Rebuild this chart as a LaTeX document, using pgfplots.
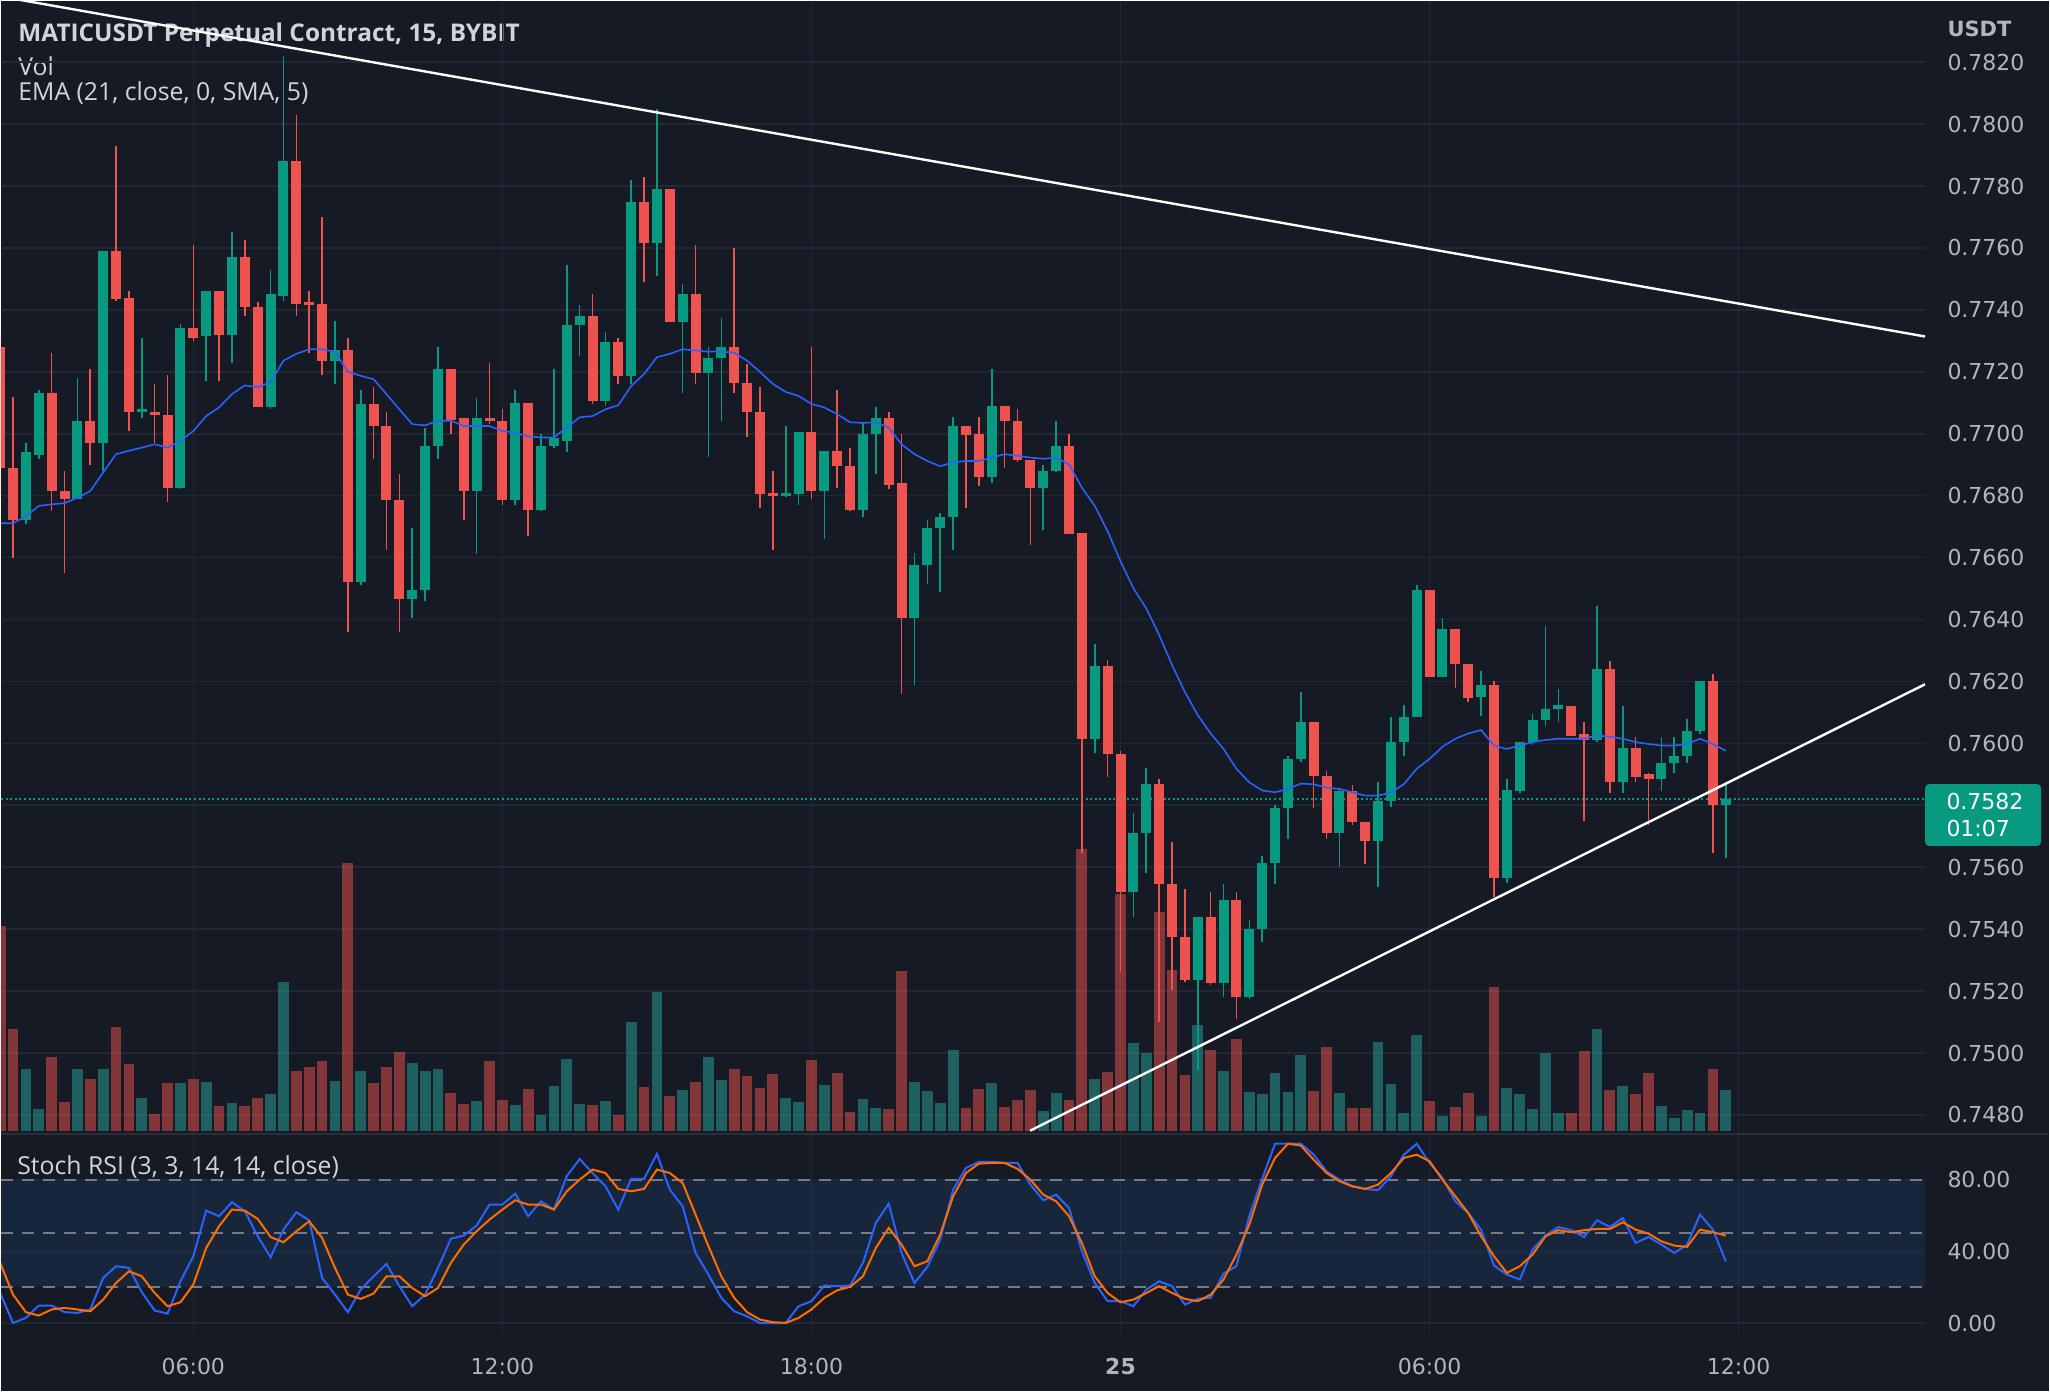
\documentclass[border=0pt]{standalone}
\usepackage{pgfplots}
\pgfplotsset{compat=1.18}
\usepackage{pgfplotstable}
\usepackage{fontspec}
\setmainfont{Open Sans}
\newfontfamily\axisfont{DejaVu Sans}
\definecolor{bg}{HTML}{161A25}
\definecolor{gridc}{HTML}{232733}
\definecolor{sepc}{HTML}{2A2E39}
\definecolor{up}{HTML}{089981}
\definecolor{dn}{HTML}{EF5350}
\definecolor{vu}{HTML}{26A69A}
\definecolor{vd}{HTML}{EF5350}
\definecolor{txt}{HTML}{B2B5BE}
\definecolor{ttl}{HTML}{D1D4DC}
\definecolor{bl}{HTML}{2962FF}
\definecolor{orng}{HTML}{FF6D00}
\definecolor{bandc}{HTML}{2196F3}
\definecolor{dashc}{HTML}{787B86}
% candle: colour, index, open, high, low, close
\newcommand{\cdl}[6]{%
  \addplot[#1, line width=0.8pt, forget plot] coordinates {(#2,#5) (#2,#4)};
  \addplot[#1, line width=5pt, forget plot] coordinates {(#2,#3) (#2,#6)};
}
% volume: colour, index, volume
\newcommand{\vb}[3]{%
  \addplot[#1, opacity=0.5, line width=5.4pt, forget plot] coordinates {(#2,0) (#2,#3)};
}
\pgfplotstableread{
i e
-15 0.76711
-14 0.76711
-13 0.76733
-12 0.76767
-11 0.76772
-10 0.76776
-9 0.76793
-8 0.76815
-7 0.76875
-6 0.76934
-5 0.76945
-4 0.76955
-3 0.76966
-2 0.76955
-1 0.76977
0 0.77009
1 0.77057
2 0.77085
3 0.77128
4 0.77156
5 0.77150
6 0.77167
7 0.77236
8 0.77258
9 0.77273
10 0.77273
11 0.77265
12 0.77200
13 0.77187
14 0.77176
15 0.77128
16 0.77079
17 0.77031
18 0.77027
19 0.77042
20 0.77042
21 0.77025
22 0.77025
23 0.77025
24 0.77009
25 0.77003
26 0.76992
27 0.76988
28 0.76988
29 0.77020
30 0.77053
31 0.77057
32 0.77079
33 0.77092
34 0.77154
35 0.77193
36 0.77247
37 0.77258
38 0.77273
39 0.77269
40 0.77265
41 0.77265
42 0.77262
43 0.77236
44 0.77200
45 0.77161
46 0.77135
47 0.77122
48 0.77096
49 0.77085
50 0.77063
51 0.77037
52 0.77035
53 0.77037
54 0.77020
55 0.76966
56 0.76934
57 0.76912
58 0.76895
59 0.76908
60 0.76912
61 0.76912
62 0.76923
63 0.76934
64 0.76929
65 0.76923
66 0.76919
67 0.76923
68 0.76901
69 0.76826
70 0.76767
71 0.76685
72 0.76588
73 0.76501
74 0.76436
75 0.76350
76 0.76253
77 0.76166
78 0.76091
79 0.76032
80 0.75982
81 0.75918
82 0.75874
83 0.75848
84 0.75842
85 0.75853
86 0.75870
87 0.75868
88 0.75857
89 0.75853
90 0.75842
91 0.75831
92 0.75831
93 0.75842
94 0.75868
95 0.75918
96 0.75950
97 0.75989
98 0.76015
99 0.76032
100 0.76043
101 0.75993
102 0.75982
103 0.75993
104 0.76004
105 0.76011
106 0.76015
107 0.76015
108 0.76015
109 0.76026
110 0.76021
111 0.76015
112 0.76004
113 0.75998
114 0.75993
115 0.75993
116 0.75998
117 0.76015
118 0.75998
119 0.75976
}\ema
\pgfplotstableread{
i k d
-15 16.8 33.6
-14 0.1 15.9
-13 2.9 6.1
-12 9.8 4.2
-11 9.8 7.6
-10 6.1 8.5
-9 5.7 7.6
-8 7.6 6.6
-7 25.2 13.1
-6 31.7 22.4
-5 30.8 28.9
-4 17.2 26.1
-3 7.0 16.8
-2 5.3 9.4
-1 23.3 11.6
0 37.3 21.5
1 62.7 41.9
2 59.6 54.0
3 67.4 63.3
4 62.4 62.7
5 48.4 58.1
6 36.7 48.0
7 52.1 45.1
8 61.8 51.2
9 57.3 56.8
10 25.2 47.5
11 15.9 30.8
12 6.1 15.9
13 18.7 13.5
14 26.1 16.5
15 33.0 26.1
16 20.6 26.1
17 9.4 19.6
18 15.9 15.0
19 30.8 19.6
20 47.1 33.6
21 48.8 43.8
22 54.4 51.2
23 66.1 57.7
24 66.1 63.3
25 72.2 68.5
26 59.6 66.1
27 67.9 66.1
28 63.3 63.3
29 81.9 73.5
30 91.5 80.0
31 83.7 85.6
32 76.3 83.7
33 63.3 74.8
34 80.4 73.5
35 80.4 74.8
36 94.3 85.6
37 74.4 83.7
38 65.1 78.1
39 39.1 60.5
40 27.1 42.9
41 14.1 26.1
42 6.6 14.1
43 3.8 6.1
44 0.0 2.0
45 0.0 0.5
46 0.1 0.1
47 9.4 2.9
48 12.2 7.6
49 20.9 14.1
50 20.6 18.3
51 20.9 20.2
52 33.6 26.1
53 55.9 41.9
54 66.6 53.1
55 39.1 43.8
56 22.4 31.7
57 31.3 34.5
58 46.6 49.4
59 74.4 70.7
60 86.5 83.7
61 89.9 88.9
62 89.9 89.3
63 89.3 89.3
64 89.3 86.0
65 77.2 80.0
66 68.5 71.6
67 71.6 67.9
68 64.2 59.6
69 40.1 44.7
70 22.4 26.1
71 12.2 16.8
72 12.2 11.6
73 9.4 13.1
74 18.7 16.8
75 23.3 20.6
76 20.6 16.8
77 10.3 13.5
78 13.5 12.2
79 14.1 15.9
80 27.6 24.3
81 31.7 38.2
82 59.6 54.9
83 80.4 77.2
84 100.0 92.1
85 100.0 100.0
86 100.0 99.0
87 93.9 91.1
88 84.6 83.7
89 80.0 79.1
90 76.3 76.3
91 74.8 74.8
92 74.1 77.2
93 81.9 83.7
94 93.9 92.1
95 100.0 93.9
96 89.3 90.2
97 80.9 80.0
98 67.9 70.7
99 61.4 61.4
100 52.1 48.4
101 32.1 37.3
102 27.1 28.0
103 24.3 31.7
104 41.0 38.2
105 48.8 48.4
106 53.6 51.8
107 51.8 50.7
108 48.0 51.8
109 57.3 52.5
110 53.6 52.5
111 58.6 56.2
112 44.7 52.1
113 48.0 49.9
114 43.8 45.6
115 39.1 43.2
116 43.8 42.5
117 60.5 52.1
118 52.1 50.7
119 34.5 48.8
}\stoch
\begin{document}
\begin{tikzpicture}
\fill[bg] (0,0) rectangle (1025pt,696pt);
\node[anchor=base west, inner sep=0pt, text=ttl, font=\bfseries\fontsize{12.2}{14}\selectfont] at (8.5pt,675.6pt) {MATICUSDT Perpetual Contract, 15, BYBIT};
\node[anchor=base west, inner sep=0pt, text=ttl, font=\fontsize{12.4}{14}\selectfont] at (8.5pt,658.5pt) {Vol};
\node[anchor=base west, inner sep=0pt, text=ttl, font=\fontsize{12.4}{14}\selectfont] at (8.5pt,646.3pt) {EMA (21, close, 0, SMA, 5)};
\pgfplotsset{panel/.style={scale only axis, width=963pt, xmin=-14.934, xmax=134.48, anchor=south west}}
% ---------- price panel grid and price scale
\begin{axis}[panel, at={(0pt,129pt)}, height=567pt, ymin=0.747394, ymax=0.783983,
  axis line style={draw=none}, major tick length=0pt,
  xtick={0,24,48,72,96,120}, xticklabels={},
  ytick={0.748,0.750,0.752,0.754,0.756,0.758,0.760,0.762,0.764,0.766,0.768,0.770,0.772,0.774,0.776,0.778,0.780,0.782},
  yticklabels={0.7480,0.7500,0.7520,0.7540,0.7560,{},0.7600,0.7620,0.7640,0.7660,0.7680,0.7700,0.7720,0.7740,0.7760,0.7780,0.7800,0.7820},
  yticklabel pos=right,
  yticklabel style={anchor=west, inner sep=0pt, xshift=11pt, text=txt, font=\axisfont\fontsize{11}{13}\selectfont},
  grid=major, grid style={gridc, line width=0.8pt}]
\addplot[draw=none] coordinates {(0,0.76)};
\end{axis}
% ---------- volume
\begin{axis}[panel, at={(0pt,129pt)}, height=567pt, ymin=-4, ymax=1689.4, hide axis]
\vb{vd}{-15}{307}
\vb{vd}{-14}{153}
\vb{vu}{-13}{92}
\vb{vu}{-12}{33}
\vb{vd}{-11}{110}
\vb{vd}{-10}{44}
\vb{vu}{-9}{92}
\vb{vd}{-8}{78}
\vb{vu}{-7}{93}
\vb{vd}{-6}{156}
\vb{vd}{-5}{100}
\vb{vu}{-4}{50}
\vb{vd}{-3}{25}
\vb{vd}{-2}{72}
\vb{vu}{-1}{72}
\vb{vd}{0}{78}
\vb{vu}{1}{74}
\vb{vd}{2}{38}
\vb{vu}{3}{42}
\vb{vd}{4}{38}
\vb{vd}{5}{50}
\vb{vu}{6}{56}
\vb{vu}{7}{223}
\vb{vd}{8}{89}
\vb{vd}{9}{95}
\vb{vd}{10}{104}
\vb{vu}{11}{75}
\vb{vd}{12}{401}
\vb{vu}{13}{89}
\vb{vd}{14}{72}
\vb{vd}{15}{95}
\vb{vd}{16}{118}
\vb{vu}{17}{102}
\vb{vu}{18}{89}
\vb{vu}{19}{93}
\vb{vd}{20}{57}
\vb{vd}{21}{41}
\vb{vu}{22}{45}
\vb{vd}{23}{104}
\vb{vd}{24}{46}
\vb{vu}{25}{39}
\vb{vd}{26}{63}
\vb{vu}{27}{24}
\vb{vu}{28}{68}
\vb{vu}{29}{108}
\vb{vu}{30}{41}
\vb{vd}{31}{39}
\vb{vu}{32}{45}
\vb{vd}{33}{24}
\vb{vu}{34}{163}
\vb{vd}{35}{66}
\vb{vu}{36}{208}
\vb{vd}{37}{53}
\vb{vu}{38}{62}
\vb{vd}{39}{74}
\vb{vu}{40}{111}
\vb{vu}{41}{77}
\vb{vd}{42}{93}
\vb{vd}{43}{82}
\vb{vd}{44}{65}
\vb{vd}{45}{85}
\vb{vu}{46}{50}
\vb{vu}{47}{43}
\vb{vd}{48}{106}
\vb{vu}{49}{69}
\vb{vd}{50}{87}
\vb{vd}{51}{29}
\vb{vu}{52}{48}
\vb{vu}{53}{35}
\vb{vd}{54}{33}
\vb{vd}{55}{239}
\vb{vu}{56}{74}
\vb{vu}{57}{60}
\vb{vu}{58}{42}
\vb{vu}{59}{121}
\vb{vd}{60}{35}
\vb{vd}{61}{63}
\vb{vu}{62}{72}
\vb{vd}{63}{36}
\vb{vd}{64}{47}
\vb{vd}{65}{62}
\vb{vu}{66}{30}
\vb{vu}{67}{57}
\vb{vd}{68}{47}
\vb{vd}{69}{422}
\vb{vu}{70}{78}
\vb{vd}{71}{88}
\vb{vd}{72}{355}
\vb{vu}{73}{132}
\vb{vu}{74}{117}
\vb{vd}{75}{327}
\vb{vd}{76}{241}
\vb{vd}{77}{84}
\vb{vu}{78}{159}
\vb{vd}{79}{121}
\vb{vu}{80}{89}
\vb{vd}{81}{137}
\vb{vu}{82}{58}
\vb{vu}{83}{55}
\vb{vu}{84}{87}
\vb{vu}{85}{59}
\vb{vu}{86}{113}
\vb{vd}{87}{60}
\vb{vd}{88}{125}
\vb{vu}{89}{57}
\vb{vd}{90}{35}
\vb{vd}{91}{35}
\vb{vu}{92}{133}
\vb{vu}{93}{71}
\vb{vu}{94}{27}
\vb{vu}{95}{144}
\vb{vd}{96}{45}
\vb{vu}{97}{23}
\vb{vd}{98}{36}
\vb{vd}{99}{57}
\vb{vu}{100}{23}
\vb{vd}{101}{215}
\vb{vu}{102}{65}
\vb{vu}{103}{55}
\vb{vu}{104}{33}
\vb{vu}{105}{117}
\vb{vu}{106}{27}
\vb{vd}{107}{27}
\vb{vd}{108}{120}
\vb{vu}{109}{153}
\vb{vd}{110}{62}
\vb{vu}{111}{68}
\vb{vd}{112}{55}
\vb{vd}{113}{86}
\vb{vu}{114}{38}
\vb{vu}{115}{20}
\vb{vu}{116}{32}
\vb{vu}{117}{27}
\vb{vd}{118}{93}
\vb{vu}{119}{62}
\end{axis}
% ---------- candles, EMA, trend lines
\begin{axis}[panel, at={(0pt,129pt)}, height=567pt, ymin=0.747394, ymax=0.783983, hide axis]
\addplot[up, line width=0.7pt, dash pattern=on 1pt off 1.3pt] coordinates {(-14.934,0.7582) (134.48,0.7582)};
\cdl{dn}{-15}{0.7728}{0.7732}{0.7679}{0.7689}
\cdl{dn}{-14}{0.7689}{0.7712}{0.7660}{0.7672}
\cdl{up}{-13}{0.7672}{0.7697}{0.7671}{0.7694}
\cdl{up}{-12}{0.7693}{0.7714}{0.7692}{0.7713}
\cdl{dn}{-11}{0.7713}{0.7726}{0.7675}{0.76815}
\cdl{dn}{-10}{0.76815}{0.7688}{0.7655}{0.7679}
\cdl{up}{-9}{0.7679}{0.7718}{0.7679}{0.7704}
\cdl{dn}{-8}{0.7704}{0.7721}{0.7690}{0.7697}
\cdl{up}{-7}{0.7697}{0.7759}{0.7688}{0.7759}
\cdl{dn}{-6}{0.7759}{0.7793}{0.7743}{0.77435}
\cdl{dn}{-5}{0.7744}{0.7746}{0.7701}{0.7707}
\cdl{up}{-4}{0.7707}{0.7731}{0.7705}{0.7708}
\cdl{dn}{-3}{0.7707}{0.7716}{0.7697}{0.7706}
\cdl{dn}{-2}{0.7706}{0.7719}{0.7678}{0.76825}
\cdl{up}{-1}{0.76825}{0.77355}{0.7682}{0.7734}
\cdl{dn}{0}{0.7734}{0.7761}{0.7730}{0.7731}
\cdl{up}{1}{0.77315}{0.7746}{0.7717}{0.7746}
\cdl{dn}{2}{0.7746}{0.7746}{0.7717}{0.7732}
\cdl{up}{3}{0.7732}{0.7765}{0.7723}{0.7757}
\cdl{dn}{4}{0.7757}{0.77625}{0.7738}{0.7741}
\cdl{dn}{5}{0.7741}{0.77425}{0.77085}{0.77085}
\cdl{up}{6}{0.77085}{0.7753}{0.7708}{0.7745}
\cdl{up}{7}{0.77445}{0.7822}{0.7743}{0.7788}
\cdl{dn}{8}{0.7788}{0.7803}{0.7738}{0.7742}
\cdl{dn}{9}{0.77425}{0.7746}{0.7726}{0.77415}
\cdl{dn}{10}{0.7742}{0.7770}{0.7719}{0.77235}
\cdl{up}{11}{0.77235}{0.77365}{0.7716}{0.7727}
\cdl{dn}{12}{0.7727}{0.7731}{0.7636}{0.7652}
\cdl{up}{13}{0.7652}{0.7714}{0.7651}{0.77095}
\cdl{dn}{14}{0.77095}{0.7715}{0.7692}{0.77025}
\cdl{dn}{15}{0.77025}{0.7707}{0.76625}{0.76785}
\cdl{dn}{16}{0.76785}{0.7687}{0.7636}{0.76465}
\cdl{up}{17}{0.76465}{0.76695}{0.76405}{0.76495}
\cdl{up}{18}{0.76495}{0.7702}{0.7646}{0.7696}
\cdl{up}{19}{0.7696}{0.7728}{0.7692}{0.7721}
\cdl{dn}{20}{0.7721}{0.7721}{0.7700}{0.77045}
\cdl{dn}{21}{0.7705}{0.7705}{0.7672}{0.76815}
\cdl{up}{22}{0.76815}{0.77115}{0.7661}{0.7705}
\cdl{dn}{23}{0.7705}{0.7723}{0.7703}{0.7704}
\cdl{dn}{24}{0.7704}{0.7708}{0.7677}{0.76785}
\cdl{up}{25}{0.76785}{0.7714}{0.7677}{0.7710}
\cdl{dn}{26}{0.7710}{0.7710}{0.7667}{0.76755}
\cdl{up}{27}{0.76755}{0.7700}{0.7675}{0.7696}
\cdl{up}{28}{0.7696}{0.7721}{0.76955}{0.76985}
\cdl{up}{29}{0.76975}{0.77545}{0.7694}{0.7735}
\cdl{up}{30}{0.7735}{0.77415}{0.7725}{0.7738}
\cdl{dn}{31}{0.7738}{0.7745}{0.77095}{0.77105}
\cdl{up}{32}{0.77105}{0.7733}{0.7709}{0.77295}
\cdl{dn}{33}{0.77295}{0.7731}{0.7716}{0.77185}
\cdl{up}{34}{0.77185}{0.7782}{0.7716}{0.7775}
\cdl{dn}{35}{0.7775}{0.7783}{0.7749}{0.77615}
\cdl{up}{36}{0.77615}{0.7805}{0.7751}{0.7779}
\cdl{dn}{37}{0.7779}{0.7779}{0.7736}{0.7736}
\cdl{up}{38}{0.7736}{0.77485}{0.7713}{0.7745}
\cdl{dn}{39}{0.7745}{0.7761}{0.7716}{0.77195}
\cdl{up}{40}{0.77195}{0.7728}{0.76925}{0.77245}
\cdl{up}{41}{0.77245}{0.77375}{0.7704}{0.7728}
\cdl{dn}{42}{0.7728}{0.7760}{0.7713}{0.77165}
\cdl{dn}{43}{0.77165}{0.77225}{0.7699}{0.7707}
\cdl{dn}{44}{0.7707}{0.7715}{0.7676}{0.76805}
\cdl{dn}{45}{0.7681}{0.7688}{0.76625}{0.7680}
\cdl{up}{46}{0.7680}{0.77025}{0.76795}{0.7681}
\cdl{up}{47}{0.76805}{0.77005}{0.7677}{0.77005}
\cdl{dn}{48}{0.77005}{0.7728}{0.7679}{0.76815}
\cdl{up}{49}{0.76815}{0.76945}{0.7666}{0.76945}
\cdl{dn}{50}{0.76945}{0.7714}{0.76825}{0.76895}
\cdl{dn}{51}{0.76895}{0.76955}{0.7675}{0.76755}
\cdl{up}{52}{0.76755}{0.77035}{0.7673}{0.7700}
\cdl{up}{53}{0.7700}{0.77085}{0.7687}{0.7705}
\cdl{dn}{54}{0.7705}{0.7707}{0.7682}{0.76835}
\cdl{dn}{55}{0.7684}{0.7700}{0.7616}{0.76405}
\cdl{up}{56}{0.76405}{0.76615}{0.7619}{0.76575}
\cdl{up}{57}{0.76575}{0.7672}{0.76515}{0.76695}
\cdl{up}{58}{0.76695}{0.76745}{0.7649}{0.7673}
\cdl{up}{59}{0.7673}{0.77055}{0.76625}{0.77025}
\cdl{dn}{60}{0.77025}{0.77025}{0.7676}{0.76995}
\cdl{dn}{61}{0.7700}{0.77055}{0.7683}{0.7686}
\cdl{up}{62}{0.7686}{0.7721}{0.7684}{0.7709}
\cdl{dn}{63}{0.7709}{0.7709}{0.7689}{0.7704}
\cdl{dn}{64}{0.7704}{0.7708}{0.7691}{0.76915}
\cdl{dn}{65}{0.76915}{0.76915}{0.7664}{0.76825}
\cdl{up}{66}{0.76825}{0.7690}{0.7669}{0.7688}
\cdl{up}{67}{0.7688}{0.7704}{0.76875}{0.7696}
\cdl{dn}{68}{0.7696}{0.7700}{0.76675}{0.76675}
\cdl{dn}{69}{0.7668}{0.7668}{0.75645}{0.76015}
\cdl{up}{70}{0.76015}{0.7632}{0.7597}{0.7625}
\cdl{dn}{71}{0.7625}{0.7627}{0.7589}{0.75965}
\cdl{dn}{72}{0.75965}{0.75975}{0.7526}{0.7552}
\cdl{up}{73}{0.7552}{0.75775}{0.7544}{0.7571}
\cdl{up}{74}{0.7571}{0.7592}{0.7558}{0.7587}
\cdl{dn}{75}{0.7587}{0.75885}{0.7510}{0.75545}
\cdl{dn}{76}{0.75545}{0.7568}{0.75205}{0.75375}
\cdl{dn}{77}{0.75375}{0.7553}{0.7523}{0.75235}
\cdl{up}{78}{0.75235}{0.7544}{0.74945}{0.7544}
\cdl{dn}{79}{0.7544}{0.7552}{0.7522}{0.75225}
\cdl{up}{80}{0.75225}{0.75545}{0.7518}{0.75495}
\cdl{dn}{81}{0.75495}{0.7552}{0.7511}{0.7518}
\cdl{up}{82}{0.7518}{0.7543}{0.75175}{0.7540}
\cdl{up}{83}{0.7540}{0.75635}{0.7536}{0.75615}
\cdl{up}{84}{0.75615}{0.7580}{0.75545}{0.7579}
\cdl{up}{85}{0.7579}{0.7596}{0.7569}{0.7595}
\cdl{up}{86}{0.7595}{0.76165}{0.7594}{0.7607}
\cdl{dn}{87}{0.7607}{0.7607}{0.7579}{0.75895}
\cdl{dn}{88}{0.75895}{0.7591}{0.7569}{0.7571}
\cdl{up}{89}{0.7571}{0.75855}{0.7560}{0.75845}
\cdl{dn}{90}{0.75845}{0.75865}{0.75735}{0.75745}
\cdl{dn}{91}{0.75745}{0.75745}{0.7561}{0.75685}
\cdl{up}{92}{0.75685}{0.75875}{0.75535}{0.75815}
\cdl{up}{93}{0.75815}{0.76085}{0.75795}{0.76005}
\cdl{up}{94}{0.76005}{0.76125}{0.7596}{0.76085}
\cdl{up}{95}{0.76085}{0.7651}{0.76085}{0.76495}
\cdl{dn}{96}{0.76495}{0.76495}{0.76215}{0.76215}
\cdl{up}{97}{0.76215}{0.76405}{0.76215}{0.7637}
\cdl{dn}{98}{0.7637}{0.7637}{0.7618}{0.76255}
\cdl{dn}{99}{0.76255}{0.76255}{0.76135}{0.76145}
\cdl{up}{100}{0.7615}{0.76235}{0.7609}{0.7619}
\cdl{dn}{101}{0.7619}{0.7620}{0.75505}{0.75565}
\cdl{up}{102}{0.75565}{0.75885}{0.7555}{0.7585}
\cdl{up}{103}{0.75845}{0.76005}{0.7584}{0.76005}
\cdl{up}{104}{0.76005}{0.76095}{0.75995}{0.76075}
\cdl{up}{105}{0.76075}{0.7638}{0.76055}{0.7611}
\cdl{up}{106}{0.7611}{0.76175}{0.7607}{0.76125}
\cdl{dn}{107}{0.7612}{0.7612}{0.76025}{0.76025}
\cdl{dn}{108}{0.7603}{0.7607}{0.7575}{0.7601}
\cdl{up}{109}{0.7601}{0.76445}{0.76005}{0.7624}
\cdl{dn}{110}{0.7624}{0.76265}{0.7584}{0.75875}
\cdl{up}{111}{0.75875}{0.7612}{0.7584}{0.75985}
\cdl{dn}{112}{0.75985}{0.7602}{0.75875}{0.7589}
\cdl{dn}{113}{0.7590}{0.75905}{0.75735}{0.75885}
\cdl{up}{114}{0.75885}{0.7602}{0.75845}{0.75935}
\cdl{up}{115}{0.75935}{0.7602}{0.75905}{0.7596}
\cdl{up}{116}{0.7596}{0.7608}{0.75935}{0.7604}
\cdl{up}{117}{0.7604}{0.7620}{0.7603}{0.7620}
\cdl{dn}{118}{0.7620}{0.76225}{0.75645}{0.7580}
\cdl{up}{119}{0.7580}{0.75875}{0.7563}{0.7582}
\addplot[bl, line width=0.8pt] table[x=i, y=e] {\ema};
\addplot[white, line width=1.2pt] coordinates {(-14.934,0.78412) (134.48,0.77314)};
\addplot[white, line width=1.2pt] coordinates {(64.97,0.74749) (134.48,0.76191)};
\end{axis}
\draw[sepc, line width=1pt] (0pt,129pt) -- (1025pt,129pt);
% ---------- Stoch RSI panel
\begin{axis}[panel, at={(0pt,28.5pt)}, height=100.5pt, ymin=-6.35, ymax=105.6,
  axis line style={draw=none}, major tick length=0pt,
  xtick={0,24,48,72,96,120},
  xticklabels={06:00,12:00,18:00,\textbf{25},06:00,12:00},
  xticklabel style={anchor=base, inner sep=0pt, yshift=-20pt, text=txt, font=\axisfont\fontsize{11}{13}\selectfont},
  ytick={0,40,80}, yticklabels={0.00,40.00,80.00}, yticklabel pos=right,
  yticklabel style={anchor=west, inner sep=0pt, xshift=11pt, text=txt, font=\axisfont\fontsize{11}{13}\selectfont},
  grid=major, grid style={gridc, line width=0.8pt}]
\addplot[draw=none, fill=bandc, fill opacity=0.1] coordinates {(-14.934,20) (134.48,20) (134.48,80) (-14.934,80) (-14.934,20)};
\addplot[dashc, line width=1pt, dash pattern=on 6pt off 4.5pt] coordinates {(-14.934,80) (134.48,80)};
\addplot[dashc, line width=1pt, dash pattern=on 6pt off 4.5pt] coordinates {(-14.934,50) (134.48,50)};
\addplot[dashc, line width=1pt, dash pattern=on 6pt off 4.5pt] coordinates {(-14.934,20) (134.48,20)};
\addplot[bl, line width=1pt] table[x=i, y=k] {\stoch};
\addplot[orng, line width=1pt] table[x=i, y=d] {\stoch};
\end{axis}
\node[anchor=base west, inner sep=0pt, text=ttl, font=\fontsize{12.4}{14}\selectfont] at (8pt,108.8pt) {Stoch RSI (3, 3, 14, 14, close)};
\node[anchor=base west, inner sep=0pt, text=txt, font=\axisfont\bfseries\fontsize{10.5}{13}\selectfont] at (974pt,678.2pt) {USDT};
\fill[up, rounded corners=2pt] (963pt,273pt) rectangle (1021pt,304pt);
\node[anchor=base west, inner sep=0pt, text=white, font=\axisfont\fontsize{11}{13}\selectfont] at (973.5pt,291.5pt) {0.7582};
\node[anchor=base west, inner sep=0pt, text=white, font=\axisfont\fontsize{11}{13}\selectfont] at (973.5pt,277.5pt) {01:07};
\end{tikzpicture}
\end{document}
